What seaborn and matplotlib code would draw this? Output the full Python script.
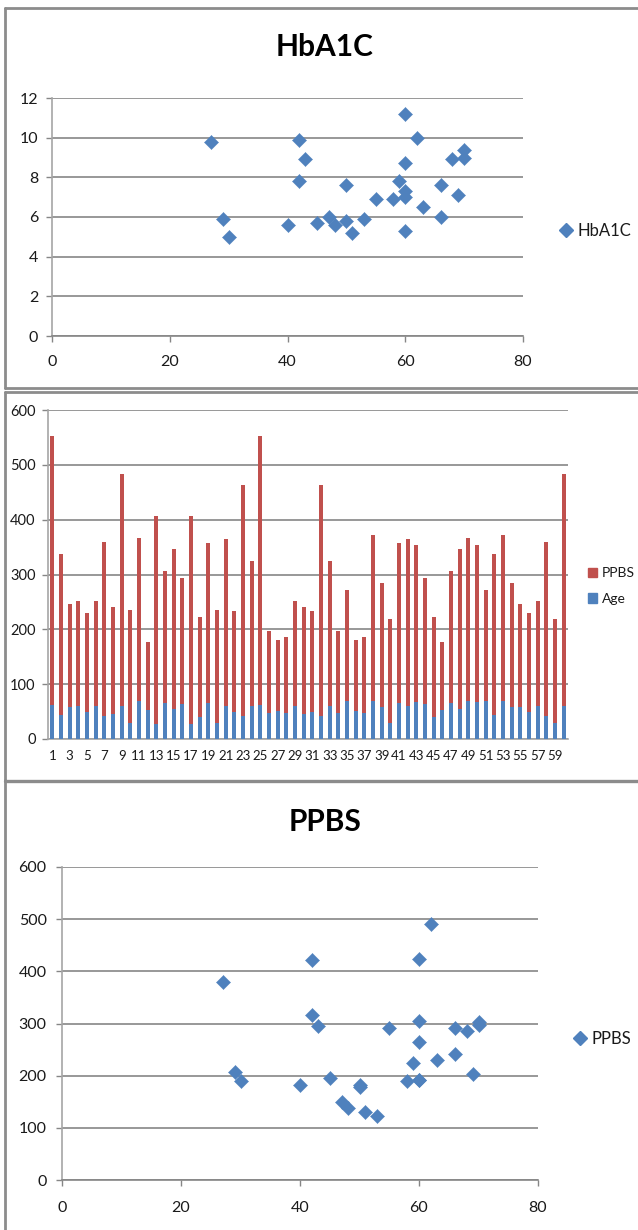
import numpy as np
import pandas as pd
import matplotlib
matplotlib.use("Agg")
import matplotlib.pyplot as plt
import seaborn as sns
from matplotlib.lines import Line2D
from matplotlib.patches import Patch

# ---------------- data ----------------
hba1c_age = [27, 29, 30, 40, 42, 42, 43, 45, 47, 48, 50, 50, 51, 53, 55, 58, 59,
             60, 60, 60, 60, 60, 62, 63, 66, 66, 68, 69, 70, 70]
hba1c_val = [9.8, 5.9, 5.0, 5.6, 9.9, 7.8, 8.9, 5.7, 6.0, 5.6, 7.6, 5.8, 5.2, 5.9,
             6.9, 6.9, 7.8, 11.2, 8.7, 7.3, 7.0, 5.3, 10.0, 6.5, 7.6, 6.0, 8.9,
             7.1, 9.4, 9.0]

ppbs_age = [27, 29, 30, 40, 42, 42, 43, 45, 47, 48, 50, 50, 51, 53, 55, 58, 59,
            60, 60, 60, 60, 60, 62, 63, 66, 66, 68, 69, 70, 70]
ppbs_val = [380, 207, 189, 183, 422, 317, 295, 196, 150, 138, 182, 178, 130, 123,
            291, 189, 225, 424, 305, 265, 191, 191, 491, 230, 291, 241, 285, 203,
            297, 302]

bar_index = list(range(1, 61))
bar_age = [62, 43, 58, 60, 50, 60, 42, 45, 60, 29, 70, 53, 27, 66, 55, 63, 27, 40,
           66, 29, 60, 50, 42, 60, 62, 47, 51, 48, 60, 45, 50, 42, 60, 47, 69, 51,
           48, 70, 59, 30, 66, 60, 68, 63, 40, 53, 66, 55, 70, 68, 69, 43, 70, 59,
           58, 50, 60, 42, 30, 60]
bar_ppbs = [491, 295, 189, 191, 180, 191, 317, 196, 424, 207, 297, 123, 380, 241,
            291, 230, 380, 183, 291, 207, 305, 183, 422, 265, 491, 150, 130, 138,
            191, 196, 183, 422, 265, 150, 203, 130, 138, 302, 225, 189, 291, 305,
            285, 230, 183, 123, 241, 291, 297, 285, 203, 295, 302, 225, 189, 180,
            191, 317, 189, 424]

hba_ticks_x = [0, 20, 40, 60, 80]
hba_ticks_y = [0, 2, 4, 6, 8, 10, 12]
bar_ticks_y = [0, 100, 200, 300, 400, 500, 600]
ppbs_ticks_y = [0, 100, 200, 300, 400, 500, 600]

BLUE = "#4F81BD"
RED = "#C0504D"
GRID = "#868686"
AXIS = "#A6A6A6"
FRAME = "#8C8C8C"

sns.set_theme(style="white")
plt.rcParams["font.family"] = ["Lato", "DejaVu Sans"]
plt.rcParams["text.color"] = "#1a1a1a"
plt.rcParams["xtick.color"] = GRID
plt.rcParams["ytick.color"] = GRID
plt.rcParams["xtick.labelcolor"] = "#1a1a1a"
plt.rcParams["ytick.labelcolor"] = "#1a1a1a"

W, H = 638, 1230
fig = plt.figure(figsize=(W / 100, H / 100), dpi=100)
fig.patch.set_facecolor("white")


def rect(l, t, r, b):
    return [l / W, 1 - b / H, (r - l) / W, (b - t) / H]


def fx(x):
    return x / W


def fy(y):
    return 1 - y / H


def hline(y, x0, x1, lw=2.0):
    fig.add_artist(Line2D([fx(x0), fx(x1)], [fy(y), fy(y)], color=FRAME, lw=lw,
                          transform=fig.transFigure))


def vline(x, y0, y1, lw=2.0):
    fig.add_artist(Line2D([fx(x), fx(x)], [fy(y0), fy(y1)], color=FRAME, lw=lw,
                          transform=fig.transFigure))


def style_axes(ax, ypad, xpad, size=11.5):
    for s in ["top", "right"]:
        ax.spines[s].set_visible(False)
    ax.spines["left"].set_color(AXIS)
    ax.spines["left"].set_linewidth(1.2)
    ax.spines["bottom"].set_color(GRID)
    ax.spines["bottom"].set_linewidth(1.2)
    ax.yaxis.grid(True, color=GRID, lw=1.2)
    ax.xaxis.grid(False)
    ax.set_axisbelow(True)
    ax.tick_params(axis="y", direction="out", length=4.5, width=1.0, pad=ypad,
                   labelsize=size, left=True)
    ax.tick_params(axis="x", direction="out", length=4.0, width=1.0, pad=xpad,
                   labelsize=size, bottom=True)
    ax.set_xlabel("")
    ax.set_ylabel("")


# ---------------- frames ----------------
hline(8, 5, 638)
vline(5, 8, 388)
hline(388, 5, 638)
hline(391.5, 5, 638)
vline(5, 391.5, 780)
hline(780.5, 5, 638, lw=2.4)
vline(5, 780, 1230)

# ---------------- panel 1: HbA1C scatter ----------------
ax1 = fig.add_axes(rect(52, 98, 523, 336))
df1 = pd.DataFrame({"Age": hba1c_age, "HbA1C": hba1c_val})
sns.scatterplot(data=df1, x="Age", y="HbA1C", ax=ax1, marker="D", s=52,
                color=BLUE, edgecolor=BLUE, linewidth=0.3, legend=False, zorder=3,
                clip_on=False)
ax1.set_xlim(0, 80)
ax1.set_ylim(0, 12)
ax1.set_xticks(hba_ticks_x)
ax1.set_yticks(hba_ticks_y)
style_axes(ax1, ypad=5.5, xpad=10)
fig.text(fx(325), fy(47), "HbA1C", ha="center", va="center", fontsize=21.5,
         fontweight="bold", color="#000000")
ax1.legend(handles=[Line2D([], [], marker="D", ls="", color=BLUE, markersize=7)],
           labels=["HbA1C"], loc="center left", bbox_to_anchor=(fx(559), fy(231)),
           bbox_transform=fig.transFigure, frameon=False, fontsize=12,
           handlelength=0.8, handletextpad=0.3, borderpad=0, borderaxespad=0)

# ---------------- panel 2: stacked bars ----------------
ax2 = fig.add_axes(rect(48, 410, 568, 739))
df2 = pd.DataFrame({"n": bar_index, "Age": bar_age, "PPBS": bar_ppbs})
df2["Total"] = df2["Age"] + df2["PPBS"]
sns.barplot(data=df2, x="n", y="Total", ax=ax2, color=RED, saturation=1,
            width=0.45, errorbar=None, linewidth=0, zorder=2)
sns.barplot(data=df2, x="n", y="Age", ax=ax2, color=BLUE, saturation=1,
            width=0.45, errorbar=None, linewidth=0, zorder=3)
ax2.set_xlim(-0.5, len(bar_index) - 0.5)
ax2.set_ylim(0, 600)
ax2.set_yticks(bar_ticks_y)
ax2.set_xticks(range(len(bar_index)))
ax2.set_xticklabels([str(n) if n % 2 == 1 else "" for n in bar_index])
style_axes(ax2, ypad=4.5, xpad=8, size=10.5)
ax2.tick_params(axis="x", which="major", length=0, labelsize=9.5)
ax2.set_xticks(np.arange(-0.5, len(bar_index), 1.0), minor=True)
ax2.tick_params(axis="x", which="minor", direction="out", length=4, width=1.0,
                color=AXIS)
ax2.spines["bottom"].set_color(AXIS)
ax2.legend(handles=[Patch(color=RED), Patch(color=BLUE)], labels=["PPBS", "Age"],
           loc="center left", bbox_to_anchor=(fx(588), fy(586)),
           bbox_transform=fig.transFigure, frameon=False, fontsize=10,
           handlelength=0.65, handleheight=0.65, handletextpad=0.35,
           labelspacing=1.0, borderpad=0, borderaxespad=0)

# ---------------- panel 3: PPBS scatter ----------------
ax3 = fig.add_axes(rect(62, 867, 538, 1180))
df3 = pd.DataFrame({"Age": ppbs_age, "PPBS": ppbs_val})
sns.scatterplot(data=df3, x="Age", y="PPBS", ax=ax3, marker="D", s=52,
                color=BLUE, edgecolor=BLUE, linewidth=0.3, legend=False, zorder=3,
                clip_on=False)
ax3.set_xlim(0, 80)
ax3.set_ylim(0, 600)
ax3.set_xticks(hba_ticks_x)
ax3.set_yticks(ppbs_ticks_y)
style_axes(ax3, ypad=6.5, xpad=11)
fig.text(fx(325), fy(822), "PPBS", ha="center", va="center", fontsize=21.5,
         fontweight="bold", color="#000000")
ax3.legend(handles=[Line2D([], [], marker="D", ls="", color=BLUE, markersize=7)],
           labels=["PPBS"], loc="center left", bbox_to_anchor=(fx(573), fy(1039)),
           bbox_transform=fig.transFigure, frameon=False, fontsize=12,
           handlelength=0.8, handletextpad=0.3, borderpad=0, borderaxespad=0)

fig.savefig("out.png", dpi=100, facecolor="white")
